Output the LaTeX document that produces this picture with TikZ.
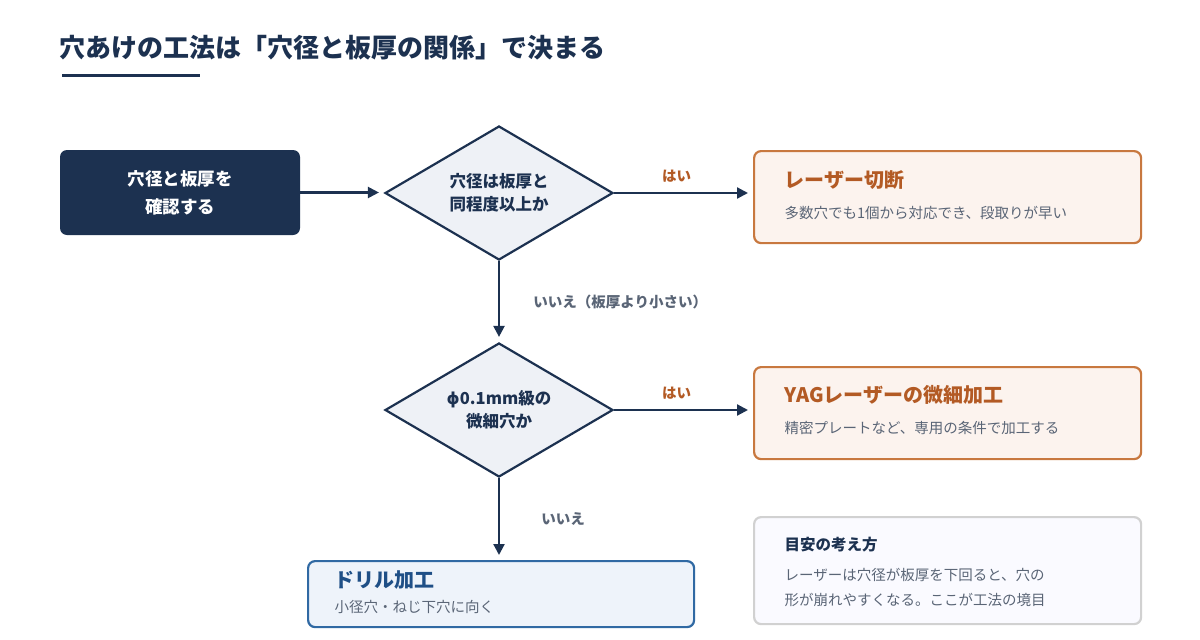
\documentclass[tikz,border=0pt]{standalone}
\usepackage{fontspec}
\setmainfont{Noto Sans CJK JP}
\newfontfamily\djv{DejaVu Sans}
\usetikzlibrary{shapes.geometric,arrows.meta}
\definecolor{navy}{HTML}{1C3150}
\definecolor{brn}{HTML}{B35A24}
\definecolor{brnline}{HTML}{C8783F}
\definecolor{brnfill}{HTML}{FCF3EE}
\definecolor{blu}{HTML}{1F4F86}
\definecolor{bluline}{HTML}{3069A3}
\definecolor{blufill}{HTML}{EEF3FA}
\definecolor{gry}{HTML}{5A6576}
\definecolor{dfill}{HTML}{EEF1F6}
\begin{document}
\begin{tikzpicture}[x=1pt,y=-1pt,
  box/.style={draw,line width=2.2pt,rounded corners=7pt,minimum height=92pt,minimum width=387pt,anchor=north west},
  dia/.style={diamond,draw=navy,fill=dfill,line width=2.2pt,minimum width=228pt,minimum height=134pt,inner sep=0pt,aspect=1.7,align=center,font=\bfseries\fontsize{16.5}{23}\selectfont,text=navy},
  arr/.style={-{Triangle[length=11pt,width=11pt]},navy,line width=2.2pt,shorten >=5pt},
  ttl/.style={anchor=west,font=\bfseries\fontsize{20}{22}\selectfont},
  sub/.style={anchor=west,text=gry,font=\fontsize{14.5}{16}\selectfont},
  lbl/.style={font=\bfseries\fontsize{14.5}{16}\selectfont}]
\useasboundingbox (0,0) rectangle (1200,640);
\fill[white] (0,0) rectangle (1200,640);
\node[anchor=west,text=navy,font=\bfseries\fontsize{26}{30}\selectfont] (title) at (56,48) {穴あけの工法は「穴径と板厚の関係」で決まる};
\fill[navy] (62,73.5) rectangle (200,76.5);
\node[fill=navy,rounded corners=7pt,minimum width=240pt,minimum height=85pt,text=white,align=center,font=\bfseries\fontsize{17.5}{28}\selectfont] (start) at (180,192.5) {穴径と板厚を\\確認する};
\node[dia] (d1) at (499,193) {穴径は板厚と\\同程度以上か};
\node[dia] (d2) at (499,410) {{\djv\bfseries ϕ}0.1mm級の\\微細穴か};
\node[box,draw=brnline,fill=brnfill] (laser) at (753,150) {};
\node[ttl,text=brn] at (781,180) {レーザー切断};
\node[sub] at (781,213) {多数穴でも1個から対応でき、段取りが早い};
\node[box,draw=brnline,fill=brnfill] (yag) at (753,366) {};
\node[ttl,text=brn] at (781,395) {YAGレーザーの微細加工};
\node[sub] at (781,428) {精密プレートなど、専用の条件で加工する};
\node[box,draw=bluline,fill=blufill,minimum width=386pt,minimum height=66pt] (drill) at (307,560) {};
\node[ttl,text=blu] at (331,580) {ドリル加工};
\node[sub] at (331,607) {小径穴・ねじ下穴に向く};
\node[box,draw=black!18,fill=black!3!blue!2,minimum height=107pt] (note) at (753,516) {};
\node[anchor=west,text=navy,font=\bfseries\fontsize{15.5}{18}\selectfont] at (781,545) {目安の考え方};
\node[sub] at (781,575) {レーザーは穴径が板厚を下回ると、穴の};
\node[sub] at (781,600) {形が崩れやすくなる。ここが工法の境目};
\draw[arr] (start.east) -- (start.east -| d1.west);
\draw[arr] (d1.east) -- (d1.east -| laser.west) node[pos=0.45,above=6pt,lbl,text=brn] {はい};
\draw[arr] (d1.south) -- (d2.north) node[midway,right=30pt,lbl,text=gry] {いいえ（板厚より小さい）};
\draw[arr] (d2.east) -- (d2.east -| yag.west) node[pos=0.45,above=6pt,lbl,text=brn] {はい};
\draw[arr] (d2.south) -- (d2.south|-drill.north) node[midway,right=38pt,lbl,text=gry] {いいえ};
\end{tikzpicture}
\end{document}
